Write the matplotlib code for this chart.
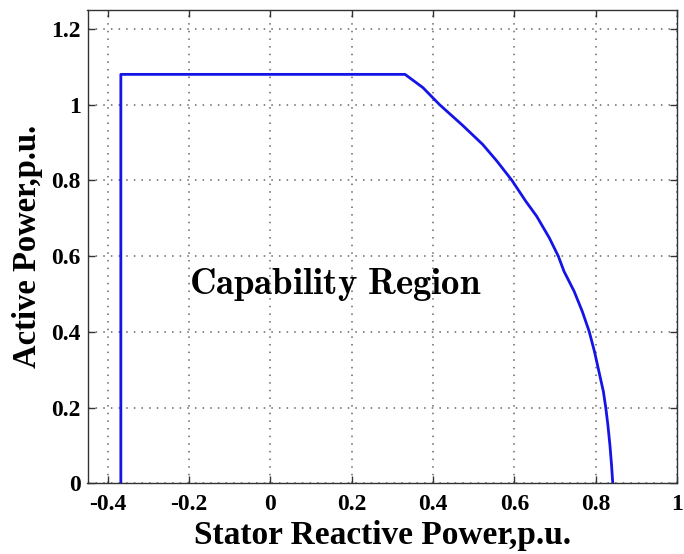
import matplotlib
matplotlib.use("Agg")
import matplotlib.pyplot as plt

# Boundary of capability region (stator reactive power, active power)
q_pu = [-0.368, -0.368, 0.331, 0.375, 0.416, 0.473, 0.522, 0.557, 0.594, 0.628,
        0.655, 0.686, 0.708, 0.722, 0.747, 0.767, 0.784, 0.797, 0.808, 0.819,
        0.825, 0.830, 0.835, 0.839, 0.842]
p_pu = [0.0, 1.08, 1.08, 1.045, 1.0, 0.945, 0.895, 0.851, 0.800, 0.745,
        0.705, 0.648, 0.600, 0.560, 0.507, 0.454, 0.401, 0.348, 0.295, 0.242,
        0.198, 0.154, 0.101, 0.048, 0.0]

x_ticks = [-0.4, -0.2, 0, 0.2, 0.4, 0.6, 0.8, 1.0]
x_tick_labels = ["-0.4", "-0.2", "0", "0.2", "0.4", "0.6", "0.8", "1"]
y_ticks = [0, 0.2, 0.4, 0.6, 0.8, 1.0, 1.2]
y_tick_labels = ["0", "0.2", "0.4", "0.6", "0.8", "1", "1.2"]

plt.rcParams['mathtext.fontset'] = 'cm'
serif = 'Liberation Serif'

fig = plt.figure(figsize=(6.84, 5.54), dpi=100)
ax = fig.add_axes([87.5 / 684, 1 - 483.3 / 554, (677 - 87.5) / 684, (483.3 - 10) / 554])

ax.plot(q_pu, p_pu, color='#1414e6', lw=2.0, solid_joinstyle='round')

ax.set_xlim(-0.45, 1.0)
ax.set_ylim(0, 1.25)
ax.set_xticks(x_ticks)
ax.set_xticklabels(x_tick_labels)
ax.set_yticks(y_ticks)
ax.set_yticklabels(y_tick_labels)

for lab in ax.get_xticklabels() + ax.get_yticklabels():
    lab.set_fontfamily(serif)
    lab.set_fontweight('bold')
    lab.set_fontsize(17)

ax.tick_params(direction='in', top=True, right=True, length=5, width=1,
               color='#333333')
ax.tick_params(axis='x', pad=8)
ax.tick_params(axis='y', pad=5)
ax.grid(True, linestyle=(0, (1, 4)), color='#666666', linewidth=1.1)
for s in ax.spines.values():
    s.set_color('#333333')
    s.set_linewidth(1.0)

ax.set_xlabel('Stator Reactive Power,p.u.', fontfamily=serif, fontweight='bold',
              fontsize=24, labelpad=3)
ax.set_ylabel('Active Power,p.u.', fontfamily=serif, fontweight='bold',
              fontsize=23.5, labelpad=6)

ax.text(0.16, 0.525, r'$\mathbf{Capability\ Region}$', fontsize=26.5,
        ha='center', va='center')

fig.savefig('out.png', dpi=100)
